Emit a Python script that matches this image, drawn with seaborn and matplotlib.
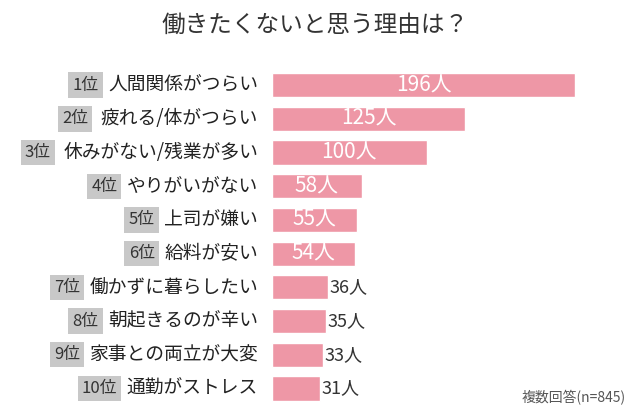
import matplotlib
matplotlib.use("Agg")
import matplotlib.pyplot as plt
import seaborn as sns
import pandas as pd

sns.set_theme(style="white")
plt.rcParams['font.family'] = ['Noto Sans CJK JP', 'DejaVu Sans']

ranks = ["1位","2位","3位","4位","5位","6位","7位","8位","9位","10位"]
categories = ["人間関係がつらい","疲れる/体がつらい","休みがない/残業が多い","やりがいがない",
              "上司が嫌い","給料が安い","働かずに暮らしたい","朝起きるのが辛い",
              "家事との両立が大変","通勤がストレス"]
values = [196,125,100,58,55,54,36,35,33,31]

df = pd.DataFrame({"cat": categories, "val": values})
fig = plt.figure(figsize=(6.3,4.07), dpi=100)
ax = fig.add_axes([272/630, 0.0, 358/630, 1-70/407])
sns.barplot(data=df, y="cat", x="val", color="#EE97A6", saturation=1, width=0.72, ax=ax, orient="h")
ax.set_xlim(0, 358/1.546)
ax.set_ylim(9.55, -0.45)
for s in ax.spines.values():
    s.set_visible(False)
ax.set_xticks([]); ax.set_yticks([])
ax.set_xlabel(""); ax.set_ylabel("")
for i,(r,c,v) in enumerate(zip(ranks,categories,values)):
    if i < 6:
        ax.text(v/2, i, f"{v}人", color="white", ha="center", va="center", fontsize=15)
    else:
        ax.text(v+1, i, f"{v}人", color="#333333", ha="left", va="center", fontsize=13)
    ax.text(-14/1.546, i, c, ha="right", va="center", fontsize=13.5, color="#222222")
    width = sum(1.0 if ord(ch) > 255 else 0.55 for ch in c) * 18.7
    ax.text(-(14 + width + 10)/1.546, i, r, ha="right", va="center", fontsize=12, color="#333333",
            bbox=dict(boxstyle="square,pad=0.25", fc="#C8C8C8", ec="none"))
fig.text(0.5, 1-25/407, "働きたくないと思う理由は？", ha="center", va="center", fontsize=17, color="#333333")
fig.text(626/630, 1-398/407, "複数回答(n=845)", ha="right", va="center", fontsize=10, color="#555555")
fig.savefig("out.png", dpi=100)
